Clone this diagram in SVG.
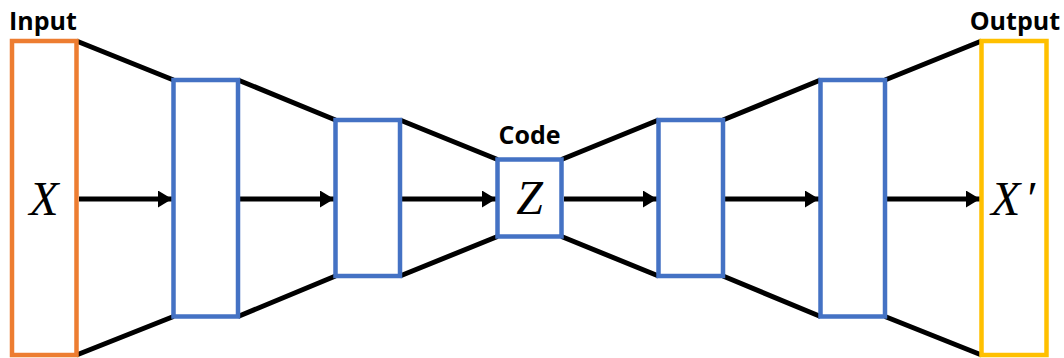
<svg xmlns="http://www.w3.org/2000/svg" width="1064" height="358" viewBox="0 0 1064 358">
<style>
.box{fill:#fff;stroke-width:4.5}
.lbl{font-family:"Open Sans","Liberation Sans",sans-serif;font-weight:bold;font-size:25px;fill:#000}
.math{font-family:"Liberation Serif","DejaVu Serif",serif;font-style:italic;font-size:48px;fill:#000;text-anchor:middle}
.edge{stroke:#000;stroke-width:5;fill:none}
.arr{stroke:#000;stroke-width:5;fill:none;marker-end:url(#ah)}
</style>
<defs>
<marker id="ah" markerUnits="userSpaceOnUse" markerWidth="14" markerHeight="17" refX="14" refY="8.5" orient="auto">
<path d="M0,0 L14,8.5 L0,17 Z" fill="#000"/>
</marker>
</defs>
<g id="connectors">
<path class="edge" d="M76.5,41 L173.5,80 M238,80 L335.5,120 M400,120 L497.5,159.5 M561.5,159.5 L658.5,120 M723,120 L820.5,80 M885,80 L981.5,41"/>
<path class="edge" d="M76.5,355 L173.5,316.5 M238,316.5 L335.5,276 M400,276 L497.5,236.5 M561.5,236.5 L658.5,276 M723,276 L820.5,316.5 M885,316.5 L981.5,355"/>
<line class="arr" x1="79" y1="199" x2="172" y2="199"/>
<line class="arr" x1="240" y1="199" x2="334" y2="199"/>
<line class="arr" x1="402" y1="199" x2="496" y2="199"/>
<line class="arr" x1="564" y1="199" x2="657" y2="199"/>
<line class="arr" x1="725" y1="199" x2="819" y2="199"/>
<line class="arr" x1="887" y1="199" x2="980" y2="199"/>
</g>
<g id="input">
<rect class="box" x="12" y="41" width="64.5" height="314" stroke="#ED7D31"/>
<text class="lbl" x="9" y="30">Input</text>
<text class="math" x="44" y="215">X</text>
</g>
<g id="enc1"><rect class="box" x="173.5" y="80" width="64.5" height="236.5" stroke="#4472C4"/></g>
<g id="enc2"><rect class="box" x="335.5" y="120" width="64.5" height="156" stroke="#4472C4"/></g>
<g id="code">
<rect class="box" x="497.5" y="159.5" width="64" height="77" stroke="#4472C4"/>
<text class="lbl" x="529.5" y="144" text-anchor="middle">Code</text>
<text class="math" x="529.5" y="214">Z</text>
</g>
<g id="dec1"><rect class="box" x="658.5" y="120" width="64.5" height="156" stroke="#4472C4"/></g>
<g id="dec2"><rect class="box" x="820.5" y="80" width="64.5" height="236.5" stroke="#4472C4"/></g>
<g id="output">
<rect class="box" x="981.5" y="41" width="65" height="314" stroke="#FFC000"/>
<text class="lbl" x="1060" y="30" text-anchor="end">Output</text>
<text class="math" x="1013" y="215">X<tspan dx="4">′</tspan></text>
</g>
</svg>
